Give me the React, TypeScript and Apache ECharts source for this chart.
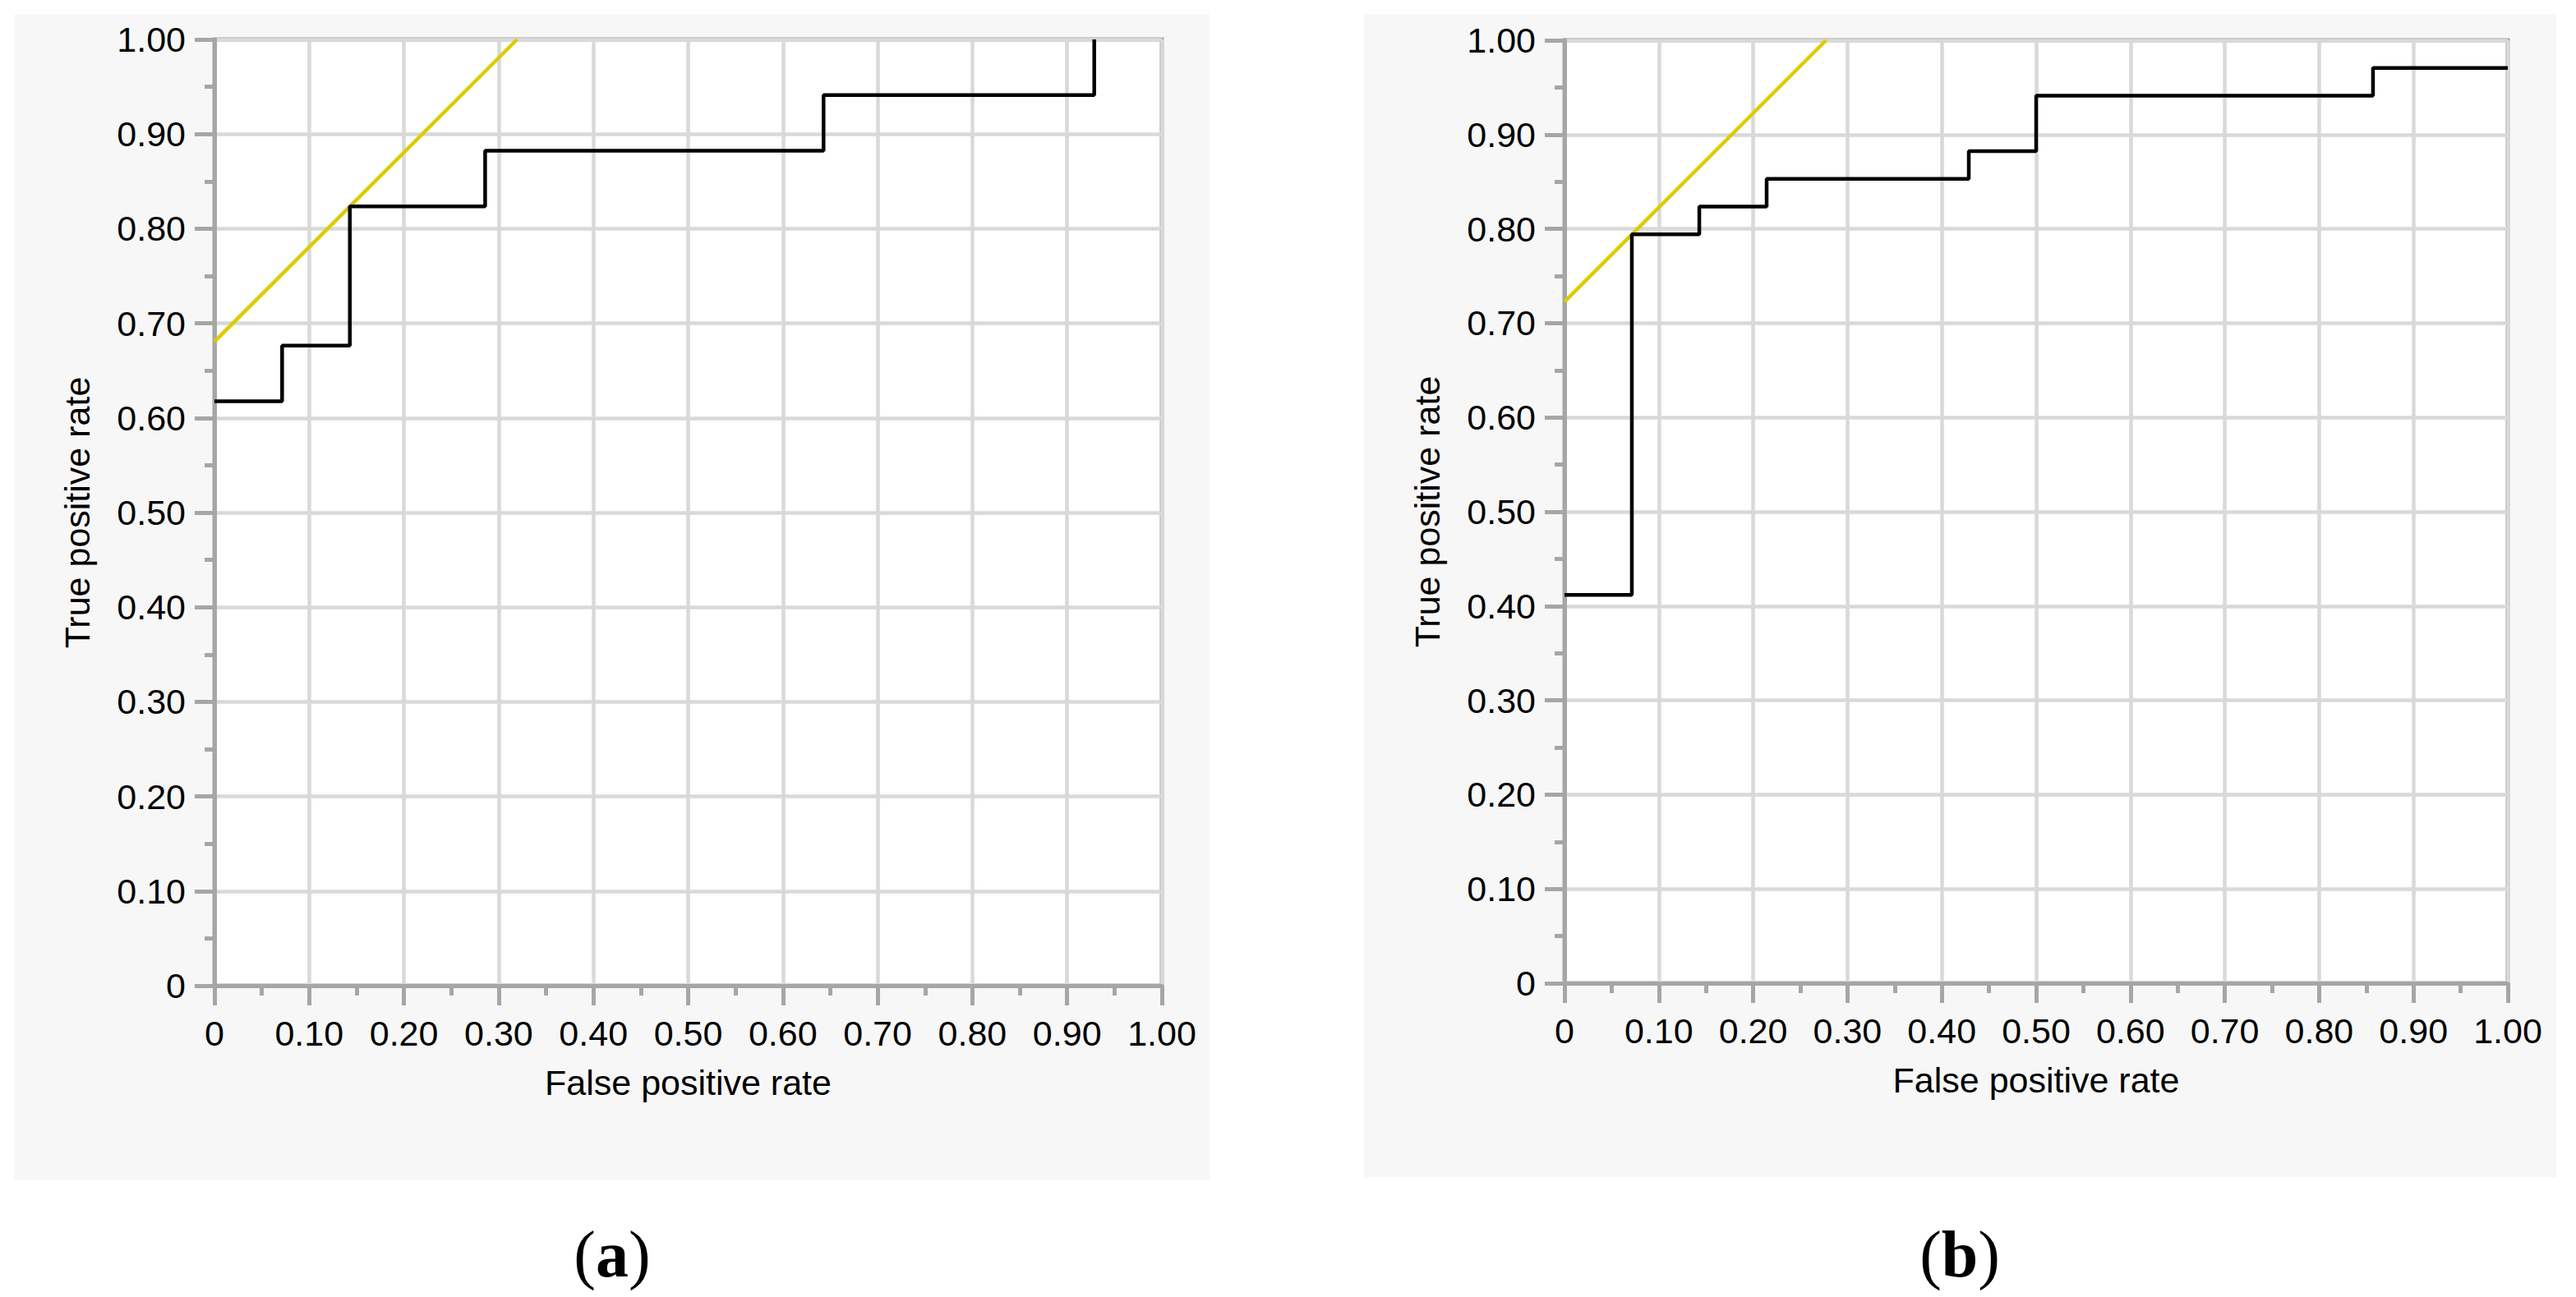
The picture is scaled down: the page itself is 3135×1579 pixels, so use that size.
import React, { useEffect, useRef } from "react";
import * as echarts from "echarts";

// ROC curve (a)
const fprA = [0, 0.0714, 0.1429, 0.2857, 0.6429, 0.9286];
const tprA = [0.6176, 0.6765, 0.8235, 0.8824, 0.9412, 1.0];
// tangent reference line (a)
const refXA = [0, 0.3194];
const refYA = [0.6806, 1.0];

// ROC curve (b)
const fprB = [0, 0.0714, 0.1429, 0.2143, 0.4286, 0.5, 0.8571, 1.0];
const tprB = [0.4118, 0.7941, 0.8235, 0.8529, 0.8824, 0.9412, 0.9706, 0.9706];
// tangent reference line (b)
const refXB = [0, 0.2773];
const refYB = [0.7227, 1.0];

const tickLabels = ["0", "0.10", "0.20", "0.30", "0.40", "0.50", "0.60", "0.70", "0.80", "0.90", "1.00"];
const xAxisName = "False positive rate";
const yAxisName = "True positive rate";
const captions = ["a", "b"];

const AXIS = "#a6a6a6";
const GRID = "#d9d9d9";
const FONT = "Liberation Sans, Arial, Helvetica, sans-serif";

function zip(xs: number[], ys: number[]) {
  return xs.map((x, i) => [x, ys[i]]);
}

function axis(gridIndex: number, isX: boolean) {
  return {
    type: "value",
    gridIndex,
    min: 0,
    max: 1,
    interval: 0.1,
    name: isX ? xAxisName : yAxisName,
    nameLocation: "middle",
    nameGap: isX ? 96 : 146,
    nameTextStyle: { color: "#000", fontSize: 43, fontFamily: FONT },
    axisLine: { show: true, lineStyle: { color: AXIS, width: 5 } },
    axisTick: { show: true, length: 24, lineStyle: { color: AXIS, width: 5 } },
    minorTick: { show: true, splitNumber: 2, length: 12, lineStyle: { color: AXIS, width: 5 } },
    splitLine: { show: true, lineStyle: { color: GRID, width: 4.5 } },
    axisLabel: {
      color: "#000",
      fontSize: 43,
      fontFamily: FONT,
      margin: isX ? 36 : 35,
      formatter: (v: number) => tickLabels[Math.round(v * 10)],
    },
  };
}

export default function App() {
  const ref = useRef<HTMLDivElement>(null);
  useEffect(() => {
    if (!ref.current) return;
    const chart = echarts.init(ref.current, undefined, { renderer: "svg" });
    const captionText = (label: string, cx: number) => ({
      type: "text",
      x: cx,
      y: 1527,
      z: 10,
      style: {
        text: "{n|(}{b|" + label + "}{n|)}",
        textAlign: "center",
        textVerticalAlign: "middle",
        fill: "#000",
        rich: {
          n: { fontFamily: "Liberation Serif, Times New Roman, serif", fontSize: 80, fontWeight: "normal", fill: "#000" },
          b: { fontFamily: "Liberation Serif, Times New Roman, serif", fontSize: 80, fontWeight: "bold", fill: "#000" },
        },
      },
    });
    chart.setOption({
      animation: false,
      backgroundColor: "#ffffff",
      graphic: [
        { type: "rect", z: -10, shape: { x: 18, y: 17, width: 1454, height: 1419 }, style: { fill: "#f7f7f7" } },
        { type: "rect", z: -10, shape: { x: 1660, y: 17, width: 1451, height: 1416 }, style: { fill: "#f7f7f7" } },
        captionText(captions[0], 745),
        captionText(captions[1], 2385),
      ],
      grid: [
        { left: 261, top: 48, width: 1153, height: 1152, show: true, backgroundColor: "#ffffff", borderColor: AXIS, borderWidth: 5 },
        { left: 1904, top: 49, width: 1148, height: 1148, show: true, backgroundColor: "#ffffff", borderColor: AXIS, borderWidth: 5 },
      ],
      xAxis: [axis(0, true), axis(1, true)],
      yAxis: [axis(0, false), axis(1, false)],
      series: [
        {
          type: "line", xAxisIndex: 0, yAxisIndex: 0, data: zip(refXA, refYA),
          symbol: "none", lineStyle: { color: "#dccc00", width: 4.5 }, z: 2,
        },
        {
          type: "line", xAxisIndex: 0, yAxisIndex: 0, data: zip(fprA, tprA), step: "end",
          symbol: "none", lineStyle: { color: "#000", width: 4.5 }, z: 3,
        },
        {
          type: "line", xAxisIndex: 1, yAxisIndex: 1, data: zip(refXB, refYB),
          symbol: "none", lineStyle: { color: "#dccc00", width: 4.5 }, z: 2,
        },
        {
          type: "line", xAxisIndex: 1, yAxisIndex: 1, data: zip(fprB, tprB), step: "end",
          symbol: "none", lineStyle: { color: "#000", width: 4.5 }, z: 3,
        },
      ],
    });
    return () => chart.dispose();
  }, []);
  return (
    <div
      ref={ref}
      style={{ position: "absolute", left: 0, top: 0, width: 3135, height: 1579 }}
    />
  );
}
